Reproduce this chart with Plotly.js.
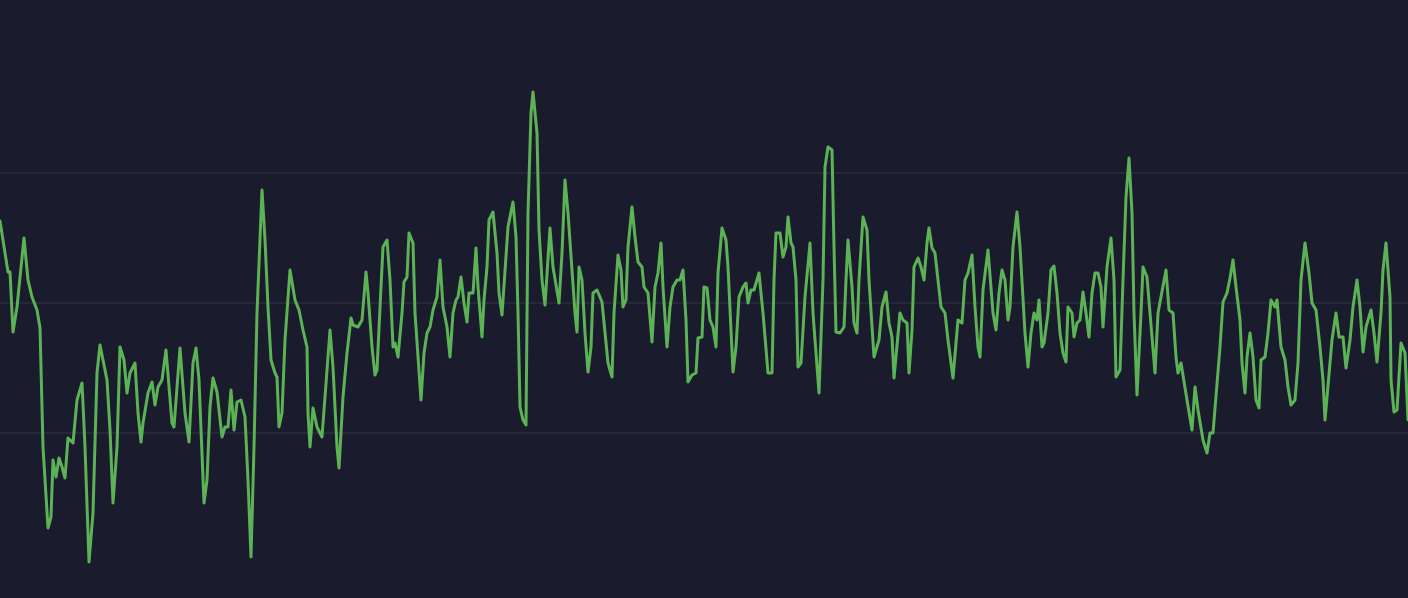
<!DOCTYPE html>
<html>
<head>
<meta charset="utf-8">
<script src="https://cdn.plot.ly/plotly-3.0.1.min.js"></script>
<style>html,body{margin:0;padding:0;background:#1b1b2e;overflow:hidden}#chart{width:1408px;height:598px}#chart path.js-line{stroke-linejoin:round;stroke-linecap:round}</style>
</head>
<body>
<div id="chart"></div>
<script>
// sample position
const t = [
0,5,8,10,13,17,24,28,32,37,40,43,47,48,51,53,56,59,62,65,68,73,77,82,85,88,89,93,97,100,
105,107,110,113,117,120,124,127,130,135,138,141,143,148,152,155,158,162,166,168,172,174,178,180,185,189,193,196,199,202,
204,207,210,213,217,222,225,228,231,234,237,241,245,248,251,254,257,262,265,268,271,275,277,279,282,285,290,295,299,303,
307,308,310,313,317,322,327,330,333,337,339,343,347,351,353,358,362,366,368,372,375,377,381,383,387,390,393,395,398,402,
404,407,409,413,415,418,421,424,427,430,433,437,440,443,447,450,453,456,458,461,464,467,469,473,476,478,482,484,487,489,
493,497,499,502,505,508,513,516,518,520,523,526,528,531,533,537,539,542,545,548,550,553,557,559,562,565,568,572,575,577,
579,582,585,588,591,593,597,602,605,608,612,614,618,621,623,626,628,632,635,638,642,644,648,650,652,655,658,661,663,667,
670,673,677,680,683,686,688,692,696,698,702,704,707,710,713,716,718,722,726,728,731,733,736,739,743,746,748,751,754,757,
759,763,766,768,772,774,776,780,783,786,788,791,793,796,798,801,805,810,813,817,819,823,825,828,832,834,836,840,844,846,
848,852,854,857,859,863,867,869,872,874,876,879,882,886,889,892,894,897,900,903,907,909,912,914,918,921,924,927,929,932,
935,938,941,945,948,953,956,958,962,965,968,972,975,978,980,983,988,991,993,996,999,1002,1005,1008,1010,1013,1017,1020,1023,1025,
1028,1031,1034,1037,1039,1042,1044,1048,1051,1054,1057,1060,1063,1066,1068,1072,1074,1077,1080,1083,1086,1089,1092,1095,1098,1101,1103,1107,1111,1114,
1116,1120,1123,1126,1129,1132,1134,1137,1141,1143,1147,1150,1153,1155,1158,1162,1166,1169,1173,1176,1178,1181,1184,1187,1192,1195,1198,1203,1207,1210,
1213,1217,1220,1223,1227,1230,1233,1236,1240,1242,1245,1247,1250,1253,1256,1259,1261,1265,1268,1271,1275,1277,1281,1285,1288,1291,1295,1298,1301,1305,
1309,1312,1316,1320,1323,1325,1329,1332,1336,1339,1343,1346,1350,1353,1357,1360,1363,1366,1371,1374,1377,1381,1383,1386,1390,1391,1394,1397,1401,1405,
1408
];
// series value
const level = [
37.9,34.7,32.8,32.8,26.8,29.3,36.2,32.0,30.3,29.0,27.2,15.3,8.7,7.2,8.3,14.0,12.3,14.2,13.3,12.2,16.2,15.7,20.0,21.7,15.3,6.0,3.8,8.7,22.7,25.5,
22.7,22.0,17.0,9.7,15.3,25.3,24.0,20.7,22.7,23.7,18.7,15.8,17.7,20.7,21.8,19.5,21.3,22.0,25.0,22.7,17.7,17.3,22.7,25.2,18.7,15.8,23.7,25.2,22.0,15.3,
9.7,12.0,19.3,22.2,20.8,16.3,17.3,17.3,21.0,17.0,19.8,20.0,18.3,12.0,4.3,15.3,28.7,41.0,36.0,29.3,24.0,22.7,22.3,17.3,18.7,26.0,33.0,30.0,29.0,27.0,
25.3,18.7,15.3,19.2,17.3,16.3,22.7,27.0,23.3,15.3,13.2,20.3,24.7,28.2,27.5,27.3,28.0,32.8,30.7,25.3,22.5,23.0,31.3,35.3,36.0,32.0,25.3,25.7,24.3,28.7,
31.8,32.3,36.7,35.7,28.7,24.3,20.0,24.7,26.7,27.3,29.0,30.3,34.0,29.3,27.3,24.3,28.7,30.0,30.3,32.3,29.7,27.8,30.7,30.7,35.2,31.3,26.3,30.0,33.3,38.0,
38.8,34.7,30.7,28.5,32.7,37.3,39.8,36.3,28.7,19.3,18.0,17.5,38.7,48.7,50.8,46.7,37.0,32.0,29.5,33.7,37.2,33.3,30.7,29.7,34.7,42.0,38.7,32.7,28.7,26.8,
33.3,32.0,26.7,22.8,25.3,30.7,31.0,29.8,26.7,23.7,22.3,28.7,34.5,33.0,29.3,30.0,35.3,39.3,36.3,33.8,33.3,31.3,30.7,27.7,25.8,31.3,32.7,35.7,31.3,25.3,
29.3,31.3,32.0,32.0,33.0,28.0,21.8,22.5,22.7,26.2,26.3,31.3,31.2,28.0,27.3,25.3,32.7,37.2,36.0,33.3,26.0,22.8,25.3,30.3,31.3,31.7,29.7,31.0,31.0,32.0,
32.7,28.7,25.3,22.7,22.7,32.0,36.7,36.7,34.3,35.3,38.3,35.7,35.3,32.0,23.3,23.7,30.3,35.7,28.7,23.7,20.7,32.0,43.3,45.3,45.0,35.3,26.8,26.7,27.3,32.0,
36.0,31.3,27.7,26.7,32.0,38.3,37.0,32.0,27.3,24.3,25.0,26.0,29.3,30.8,27.7,26.3,22.2,25.3,28.7,28.0,27.7,22.7,27.0,33.3,34.2,33.3,32.0,35.7,37.2,35.2,
34.7,32.0,29.3,28.7,26.0,22.2,26.0,28.0,27.7,32.0,32.7,34.5,29.3,25.3,24.3,31.0,35.0,31.3,28.7,27.0,30.7,33.0,32.0,28.0,29.3,35.3,38.8,35.3,29.3,26.7,
23.3,26.7,28.7,28.0,30.0,25.3,25.7,28.7,33.0,33.4,30.7,26.7,24.7,23.8,29.3,28.7,26.3,27.7,28.0,30.8,28.7,26.3,30.7,32.7,32.7,31.3,27.3,33.3,36.2,32.0,
22.3,23.0,32.0,40.3,44.2,38.7,28.7,20.5,28.7,33.3,32.3,28.7,24.7,22.7,28.7,30.7,33.0,29.0,28.7,24.3,22.7,23.7,22.0,20.0,17.0,21.3,19.0,16.0,14.7,16.7,
16.7,21.3,25.3,29.8,30.7,32.2,34.0,31.3,28.0,23.7,20.7,24.3,26.7,24.3,20.0,19.2,24.0,24.3,26.7,30.0,29.3,30.0,25.3,24.0,21.3,19.5,20.0,23.7,32.0,35.7,
32.7,29.7,29.0,25.3,22.0,18.0,22.7,26.0,28.7,26.3,26.3,23.2,26.0,29.3,32.0,29.3,24.8,27.3,29.0,26.7,23.8,28.7,33.0,35.7,30.3,22.0,18.8,19.0,25.7,24.7,
18.0
];
const gridLevels = [16.7, 29.7, 42.7];

Plotly.newPlot('chart', [{
  x: t, y: level, type: 'scatter', mode: 'lines',
  line: {color: '#5cb356', width: 3, shape: 'linear'},
  hoverinfo: 'skip'
}], {
  width: 1408, height: 598,
  margin: {l: 0, r: 0, t: 0, b: 0, pad: 0},
  paper_bgcolor: '#1b1b2e', plot_bgcolor: '#1b1b2e',
  showlegend: false,
  xaxis: {range: [0, 1408], showgrid: false, zeroline: false, showticklabels: false, ticks: '', showline: false},
  yaxis: {range: [0.2, 60], tickmode: 'array', tickvals: gridLevels, showgrid: true, gridcolor: '#27273a', gridwidth: 2, zeroline: false, showticklabels: false, ticks: '', showline: true, linecolor: '#252538', linewidth: 2}
}, {staticPlot: true, displayModeBar: false});
</script>
</body>
</html>
